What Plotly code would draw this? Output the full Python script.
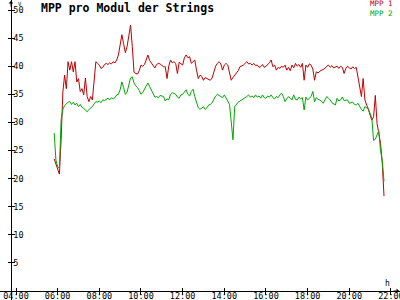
import plotly.graph_objects as go

# time grid: every 5 minutes from 05:50 to 21:40
start_time = "05:50"
step_minutes = 5

mpp1 = [23.5, 22.5, 21.5, 20.8, 27.0, 35.4, 38.4, 36.0, 40.8, 39.3,
        40.8, 39.0, 40.8, 37.2, 37.8, 35.5, 36.0, 34.9, 37.9, 34.6,
        33.7, 34.6, 34.0, 38.1, 40.8, 40.5, 40.2, 39.6, 39.8, 40.3,
        40.5, 40.3, 40.6, 40.4, 40.8, 40.6, 41.1, 42.0, 43.8, 45.6,
        44.0, 42.4, 43.5, 45.3, 47.3, 43.5, 38.9, 38.7, 38.6, 39.2,
        40.2, 40.0, 40.3, 41.1, 42.0, 41.0, 40.6, 40.0, 39.7, 40.3,
        40.5, 40.4, 40.2, 39.9, 39.9, 37.8, 40.0, 41.1, 40.6, 40.8,
        40.5, 38.7, 40.7, 40.4, 40.2, 41.5, 42.0, 41.5, 41.7, 40.5,
        40.8, 41.1, 39.3, 37.8, 38.4, 38.2, 37.5, 38.0, 37.8, 37.6,
        37.5, 37.9, 39.0, 40.0, 40.5, 40.8, 40.4, 39.3, 40.2, 40.5,
        40.2, 38.7, 37.5, 38.0, 38.4, 38.6, 39.2, 39.9, 40.0, 40.2,
        40.5, 40.8, 40.4, 40.5, 40.2, 40.5, 40.1, 40.2, 39.8, 39.9,
        40.3, 39.8, 40.0, 40.3, 40.6, 41.1, 39.9, 40.2, 39.3, 39.8,
        39.6, 40.0, 39.8, 40.2, 39.3, 39.8, 39.2, 40.2, 39.7, 40.5,
        40.0, 40.3, 39.8, 40.5, 37.5, 40.2, 39.8, 40.4, 40.2, 39.5,
        37.5, 39.0, 38.8, 39.1, 39.3, 39.5, 39.6, 40.0, 40.2, 39.8,
        40.1, 39.7, 39.9, 40.0, 39.6, 40.0, 39.8, 38.7, 39.6, 40.0,
        39.7, 39.5, 39.9, 39.6, 39.8, 38.1, 36.3, 34.6, 37.8, 34.0,
        33.1, 32.4, 31.3, 30.4, 31.0, 34.8, 29.8, 28.1, 26.3, 22.8,
        16.9]

mpp2 = [28.1, 23.3, 22.1, 21.8, 30.5, 32.3, 33.0, 33.3, 33.6, 33.7,
        33.2, 33.6, 33.1, 33.4, 32.8, 33.2, 32.7, 32.5, 32.2, 31.9,
        32.3, 32.6, 32.8, 33.3, 33.7, 33.6, 33.8, 33.5, 34.0, 33.9,
        34.1, 34.3, 34.0, 34.4, 34.2, 34.4, 34.9, 35.0, 35.8, 37.2,
        36.2, 35.0, 35.4, 36.5, 37.9, 38.1, 37.0, 36.5, 36.2, 35.7,
        35.0, 35.3, 36.0, 36.5, 37.0, 36.4, 35.7, 35.0, 34.5, 34.6,
        34.4, 34.8, 34.7, 34.6, 33.8, 34.2, 34.0, 35.0, 35.3, 35.2,
        35.0, 34.5, 34.3, 34.9, 35.0, 35.4, 35.8, 35.0, 34.7, 35.5,
        35.9, 34.6, 33.5, 32.6, 32.3, 32.6, 32.8, 32.3, 32.6, 33.1,
        33.2, 33.5, 34.1, 34.7, 35.0, 34.8, 34.6, 34.4, 34.9, 34.2,
        33.8, 33.2, 30.4, 26.9, 32.8, 33.3, 33.6, 33.8, 34.0, 34.1,
        34.3, 34.6, 34.9, 34.5, 34.7, 34.4, 34.9, 34.5, 34.7, 34.3,
        34.9, 34.4, 34.3, 34.7, 34.5, 34.9, 34.4, 34.2, 34.6, 34.4,
        34.9, 35.2, 34.6, 33.7, 34.2, 34.6, 34.3, 34.0, 34.9, 34.1,
        34.0, 34.5, 34.2, 34.4, 32.2, 34.5, 34.0, 34.3, 34.6, 35.5,
        33.7, 34.4, 34.1, 34.0, 33.6, 33.4, 34.0, 34.6, 34.3, 34.0,
        33.5, 33.3, 33.1, 34.3, 33.8, 34.0, 34.5, 33.9, 34.0, 34.0,
        33.4, 33.5, 33.6, 33.2, 33.1, 33.4, 32.8, 32.3, 32.0, 32.8,
        32.6, 32.3, 31.6, 30.7, 26.8, 27.0, 27.8, 28.5, 25.0, 23.2,
        19.5]

series_names = ["MPP 1", "MPP 2"]
series_colors = ["#c00000", "#00a800"]
x_tick_hours = [4, 6, 8, 10, 12, 14, 16, 18, 20, 22]
x_tick_labels = ["04:00", "06:00", "08:00", "10:00", "12:00",
                 "14:00", "16:00", "18:00", "20:00", "22:00"]
y_ticks = [5, 10, 15, 20, 25, 30, 35, 40, 45, 50]
title_text = "MPP pro Modul der Strings"
y_unit = "V"
x_unit = "h"

h0, m0 = map(int, start_time.split(":"))
t0 = h0 + m0 / 60.0
hours = [t0 + i * step_minutes / 60.0 for i in range(len(mpp1))]

FONT = "DejaVu Sans Mono"
W, H = 400, 300
# pixel mapping of the reference frame
x_range = [4 - 16 / 20.83, 4 + 384 / 20.83]
y_range = [(291 - 300) / 5.62, 291 / 5.62]
x_axis_pos = 9 / H
y_axis_pos = 11 / W

fig = go.Figure()
for vals, name, col in zip([mpp1, mpp2], series_names, series_colors):
    fig.add_trace(go.Scatter(x=hours, y=vals, mode="lines", name=name,
                             line=dict(color=col, width=1), showlegend=False))

common_x = dict(range=x_range, tickvals=x_tick_hours, showgrid=False, zeroline=False,
                showline=True, linecolor="black", linewidth=1, automargin=False)
common_y = dict(range=y_range, tickvals=y_ticks, showgrid=False, zeroline=False,
                showline=True, linecolor="black", linewidth=1, automargin=False)

fig.update_layout(
    width=W, height=H,
    margin=dict(l=0, r=0, t=0, b=0, pad=0, autoexpand=False),
    paper_bgcolor="white", plot_bgcolor="white",
    font=dict(family=FONT, size=8, color="black"),
    xaxis=dict(**common_x, ticktext=x_tick_labels, ticks="inside", ticklen=3,
               tickcolor="black", anchor="free", position=x_axis_pos,
               ticklabeloverflow="allow", ticklabelstandoff=-3,
               tickfont=dict(family=FONT, size=8.5, color="black")),
    yaxis=dict(**common_y, ticks="outside", ticklen=3, tickcolor="black",
               anchor="free", position=y_axis_pos, ticklabelposition="inside",
               ticklabeloverflow="allow",
               tickfont=dict(family=FONT, size=8.5, color="black")),
    xaxis2=dict(**common_x, overlaying="x", ticks="outside", ticklen=3, tickcolor="black",
                showticklabels=False, anchor="free", position=x_axis_pos),
    yaxis2=dict(**common_y, overlaying="y", ticks="inside", ticklen=3, tickcolor="black",
                showticklabels=False, anchor="free", position=y_axis_pos),
)
# invisible trace to activate the overlay axes
fig.add_trace(go.Scatter(x=[hours[0]], y=[mpp1[0]], xaxis="x2", yaxis="y2",
                         mode="markers", marker=dict(opacity=0), showlegend=False,
                         hoverinfo="skip"))

fig.add_annotation(text="<b>" + title_text + "</b>", xref="paper", yref="paper",
                   x=39 / W, y=1 - 8 / H, xanchor="left", yanchor="middle",
                   showarrow=False, font=dict(family=FONT, size=11.5, color="black"))
for i, (name, col) in enumerate(zip(series_names, series_colors)):
    fig.add_annotation(text=name, xref="paper", yref="paper",
                       x=395 / W, y=1 - (4 + 9 * i) / H, xanchor="right", yanchor="middle",
                       showarrow=False, font=dict(family=FONT, size=7.5, color=col))
fig.add_annotation(text=y_unit, xref="paper", yref="paper", x=16 / W, y=1 + 1 / H,
                   xanchor="left", yanchor="top", showarrow=False,
                   font=dict(family=FONT, size=5.5, color="black"))
fig.add_annotation(text=x_unit, xref="paper", yref="paper", x=387 / W, y=1 - 283 / H,
                   xanchor="center", yanchor="middle", showarrow=False,
                   font=dict(family=FONT, size=8, color="black"))
# axis arrow heads
fig.add_annotation(text="", xref="paper", yref="paper", x=y_axis_pos, y=1,
                   ax=0, ay=8, showarrow=True, arrowhead=1, arrowsize=0.8,
                   arrowwidth=1, arrowcolor="black")
fig.add_annotation(text="", xref="paper", yref="paper", x=1, y=x_axis_pos,
                   ax=-8, ay=0, showarrow=True, arrowhead=1, arrowsize=0.8,
                   arrowwidth=1, arrowcolor="black")

fig.write_html("out.html")
